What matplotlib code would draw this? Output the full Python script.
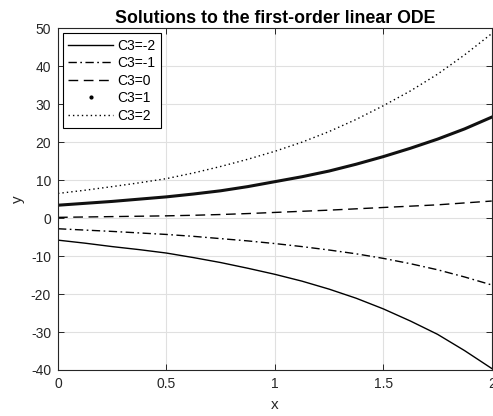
import matplotlib
matplotlib.use("Agg")
import matplotlib.pyplot as plt
from matplotlib.lines import Line2D

plt.rcParams['font.family'] = ['Liberation Sans', 'DejaVu Sans']
plt.rcParams['axes.unicode_minus'] = False

x = [0, 0.125, 0.25, 0.375, 0.5, 0.625, 0.75, 0.875, 1.0,
     1.125, 1.25, 1.375, 1.5, 1.625, 1.75, 1.875, 2.0]
y_c3_m2 = [-5.8, -6.6, -7.5, -8.3, -9.2, -10.4, -11.7, -13.2, -14.8,
           -16.6, -18.7, -21.1, -23.9, -27.1, -30.6, -34.9, -39.6]
y_c3_m1 = [-2.8, -3.15, -3.5, -3.9, -4.3, -4.8, -5.4, -6.0, -6.7,
           -7.5, -8.4, -9.4, -10.6, -12.0, -13.6, -15.5, -17.6]
y_c3_0 = [0.2, 0.3, 0.4, 0.5, 0.6, 0.75, 0.95, 1.2, 1.5,
          1.8, 2.1, 2.45, 2.8, 3.15, 3.5, 4.0, 4.5]
y_c3_1 = [3.4, 3.9, 4.4, 5.0, 5.6, 6.35, 7.2, 8.3, 9.6,
          10.9, 12.4, 14.2, 16.2, 18.4, 20.8, 23.5, 26.6]
y_c3_2 = [6.5, 7.35, 8.3, 9.3, 10.4, 11.9, 13.6, 15.5, 17.6,
          20.0, 22.8, 26.0, 29.6, 33.5, 37.9, 43.0, 48.6]
labels = ['C3=-2', 'C3=-1', 'C3=0', 'C3=1', 'C3=2']
xticks = [0, 0.5, 1, 1.5, 2]
xticklabels = ['0', '0.5', '1', '1.5', '2']
yticks = [-40, -30, -20, -10, 0, 10, 20, 30, 40, 50]

fig = plt.figure(figsize=(4.93, 4.16), dpi=100)
ax = fig.add_axes([0.1176, 0.1106, 0.8798, 0.8214])

dashdot = (0, (6, 2.5, 1.2, 2.5))
dashed = (0, (7, 4))
dotted = (0, (1, 2.2))

ax.plot(x, y_c3_m2, color='black', lw=1.0, ls='-')
ax.plot(x, y_c3_m1, color='black', lw=1.0, ls=dashdot)
ax.plot(x, y_c3_0, color='black', lw=1.0, ls=dashed)
ax.plot(x, y_c3_1, color='#111111', lw=2.2, ls='-')
ax.plot(x, y_c3_2, color='black', lw=1.0, ls=dotted)

handles = [
    Line2D([], [], color='black', lw=1.0, ls='-'),
    Line2D([], [], color='black', lw=1.0, ls=dashdot),
    Line2D([], [], color='black', lw=1.0, ls=dashed),
    Line2D([], [], color='black', lw=0, marker='.', markersize=4),
    Line2D([], [], color='black', lw=1.0, ls=dotted),
]
leg = ax.legend(handles, labels, loc='upper left', fontsize=10, frameon=True,
                fancybox=False, edgecolor='black', framealpha=1,
                handlelength=3.2, handletextpad=0.3, borderpad=0.4,
                labelspacing=0.25, borderaxespad=0.35)
leg.get_frame().set_linewidth(0.8)

ax.set_xlim(0, 2)
ax.set_ylim(-40, 50)
ax.set_xticks(xticks)
ax.set_xticklabels(xticklabels)
ax.set_yticks(yticks)
ax.grid(True, color='#e0e0e0', lw=0.8)
ax.set_axisbelow(True)
ax.tick_params(direction='in', top=True, right=True, length=4, width=0.7,
               colors='#262626', labelsize=10, pad=5)
for s in ax.spines.values():
    s.set_color('#262626')
    s.set_linewidth(0.8)

ax.set_title('Solutions to the first-order linear ODE', fontsize=12.8,
             fontweight='bold', pad=4)
ax.set_xlabel('x', fontsize=11, color='#262626', labelpad=5)
ax.set_ylabel('y', fontsize=11, color='#262626', labelpad=4)

fig.savefig('out.png', dpi=100)
